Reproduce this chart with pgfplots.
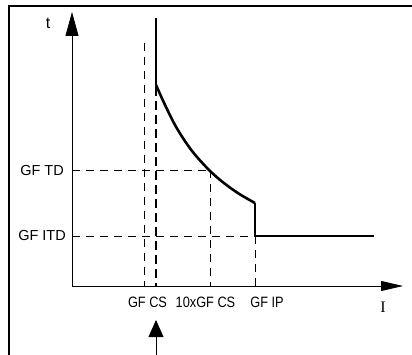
\documentclass[border=0pt]{standalone}
\usepackage{fontspec}
\setmainfont{Liberation Sans}
\newfontfamily\seriffont{Liberation Serif}
\newfontfamily\narrowfont{Liberation Sans}[FakeStretch=0.85]
\usepackage{pgfplots}
\pgfplotsset{compat=1.18}
\usetikzlibrary{arrows.meta}
\tikzset{lab/.style={font=\fontsize{14.5}{16}\selectfont, inner sep=1pt},
         xlab/.style={font=\narrowfont\fontsize{15}{16}\selectfont, inner sep=1pt}}
\begin{document}
\begin{tikzpicture}
\begin{axis}[
  width=412pt, height=355pt, scale only axis,
  xmin=0, xmax=412, ymin=0, ymax=355, y dir=reverse,
  hide axis, clip=false,
]
\coordinate (bl) at (axis cs:0,355);
\coordinate (tr) at (axis cs:412,0);
% frame
\addplot[line width=1.6pt] coordinates {(9,355) (9,6) (412,6)};
% axes
\addplot[line width=0.8pt, -{Triangle[length=24pt,width=13pt]}] coordinates {(72,286) (72,12)};
\addplot[line width=0.8pt, -{Triangle[length=22pt,width=10pt]}] coordinates {(72,286) (403,286)};
% thin dashed guides
\addplot[line width=0.8pt, dash pattern=on 8pt off 6pt] coordinates {(144,43) (144,286)};
\addplot[line width=0.8pt, dash pattern=on 8pt off 6pt] coordinates {(72,170) (210,170)};
\addplot[line width=0.8pt, dash pattern=on 8pt off 6pt] coordinates {(210,170) (210,286)};
\addplot[line width=0.8pt, dash pattern=on 8pt off 6pt] coordinates {(72,236) (255,236)};
\addplot[line width=0.8pt, dash pattern=on 8pt off 6pt] coordinates {(255,236) (255,286)};
% thick dashed at GF CS
\addplot[line width=2.6pt, dash pattern=on 9pt off 5pt] coordinates {(156,87) (156,286)};
% trip curve
\addplot[line width=2.6pt, smooth, tension=0.5] coordinates {
 (156,85) (165,104.9) (175,125.0) (185,141.2) (195,154.7) (209,170) (220,179.9) (230,187.6) (240,194.4) (255,203.1)};
\addplot[line width=2.6pt] coordinates {(156,18) (156,85)};
\addplot[line width=2.6pt] coordinates {(255,203.1) (255,236) (374,236)};
% bottom arrow
\addplot[line width=0.8pt, -{Triangle[length=17pt,width=15pt]}] coordinates {(156,355) (156,320)};
% labels
\node[lab, anchor=center, font=\fontsize{16}{17}\selectfont] at (axis cs:48,23) {t};
\node[lab, anchor=east] at (axis cs:65,171) {GF TD};
\node[lab, anchor=east] at (axis cs:67,236) {GF ITD};
\node[xlab, anchor=center] at (axis cs:147.5,302) {GF CS};
\node[xlab, anchor=center] at (axis cs:205.5,302) {10xGF CS};
\node[xlab, anchor=center] at (axis cs:267,302) {GF IP};
\node[anchor=center, inner sep=0pt, font=\fontsize{16}{17}\selectfont\seriffont] at (axis cs:383,307) {I};
\end{axis}
\pgfresetboundingbox
\path (bl) rectangle (tr);
\end{tikzpicture}
\end{document}
